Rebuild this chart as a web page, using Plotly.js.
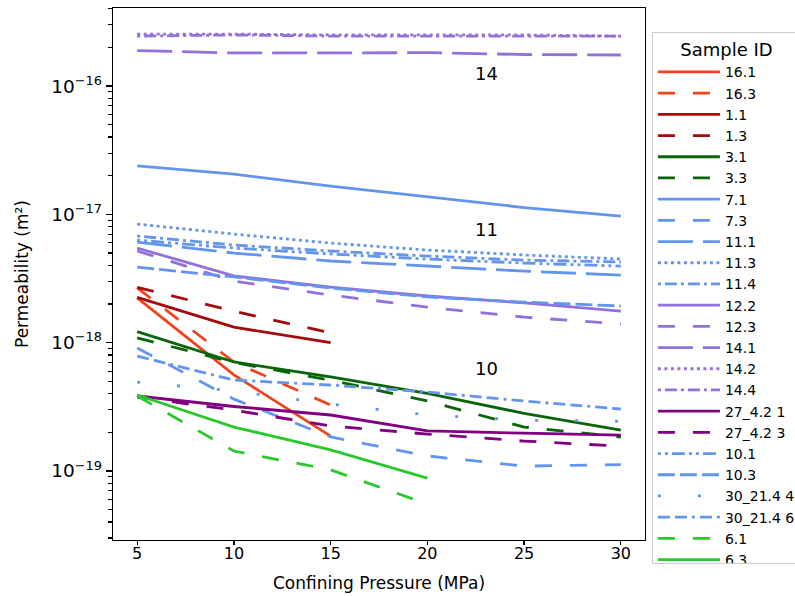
<!DOCTYPE html>
<html>
<head>
<meta charset="utf-8">
<script src="https://cdn.plot.ly/plotly-3.0.1.min.js"></script>
<style>html,body{margin:0;padding:0;background:#fff;}#chart{width:795px;height:596px;}</style>
</head>
<body>
<div id="chart"></div>
<script>
// ---- data (confining pressure in MPa, permeability in m²) ----
const pressure = [5, 10, 15, 20, 25, 30];
const k16_1 = [2.23e-18, 5.6e-19, 1.87e-19];
const k16_3 = [2.67e-18, 7.06e-19, 3.26e-19];
const k1_1 = [2.25e-18, 1.32e-18, 1.0e-18];
const k1_3 = [2.70e-18, 1.76e-18, 1.19e-18];
const k3_1 = [1.22e-18, 7.07e-19, 5.42e-19, 4.03e-19, 2.81e-19, 2.08e-19];
const k3_3 = [1.09e-18, 7.0e-19, 5.1e-19, 3.51e-19, 2.2e-19, 1.84e-19];
const k7_1 = [2.39e-17, 2.06e-17, 1.66e-17, 1.37e-17, 1.13e-17, 9.7e-18];
const k7_3 = [9.08e-19, 3.63e-19, 1.84e-19, 1.31e-19, 1.09e-19, 1.12e-19];
const k11_1 = [6.08e-18, 4.99e-18, 4.33e-18, 3.95e-18, 3.61e-18, 3.36e-18];
const k11_3 = [8.4e-18, 7.02e-18, 5.97e-18, 5.27e-18, 4.82e-18, 4.49e-18];
const k11_4 = [6.78e-18, 5.76e-18, 5.18e-18, 4.73e-18, 4.4e-18, 4.25e-18];
const k12_2 = [5.46e-18, 3.31e-18, 2.71e-18, 2.31e-18, 2.04e-18, 1.76e-18];
const k12_3 = [5.18e-18, 3.02e-18, 2.35e-18, 1.89e-18, 1.58e-18, 1.40e-18];
const k14_1 = [1.89e-16, 1.81e-16, 1.81e-16, 1.82e-16, 1.76e-16, 1.745e-16];
const k14_2 = [2.54e-16, 2.54e-16, 2.50e-16, 2.50e-16, 2.50e-16, 2.45e-16];
const k14_4 = [2.45e-16, 2.50e-16, 2.45e-16, 2.45e-16, 2.45e-16, 2.45e-16];
const k27_1 = [3.84e-19, 3.18e-19, 2.73e-19, 2.05e-19, 1.97e-19, 1.90e-19];
const k27_3 = [3.77e-19, 2.98e-19, 2.24e-19, 1.94e-19, 1.71e-19, 1.56e-19];
const k10_1 = [6.3e-18, 5.46e-18, 4.91e-18, 4.48e-18, 4.17e-18, 3.95e-18];
const k10_3 = [3.88e-18, 3.25e-18, 2.67e-18, 2.27e-18, 2.07e-18, 1.93e-18];
const k30_4 = [4.93e-19, 4.2e-19, 3.32e-19, 2.73e-19, 2.49e-19, 2.44e-19];
const k30_6 = [7.86e-19, 5.11e-19, 4.67e-19, 4.12e-19, 3.51e-19, 3.04e-19];
const k6_1 = [3.84e-19, 1.43e-19, 1.02e-19, 5.52e-20];
const k6_3 = [3.91e-19, 2.2e-19, 1.46e-19, 8.8e-20];

const sampleIds = ["16.1","16.3","1.1","1.3","3.1","3.3","7.1","7.3","11.1","11.3","11.4",
  "12.2","12.3","14.1","14.2","14.4","27_4.2 1","27_4.2 3","10.1","10.3","30_21.4 4","30_21.4 6","6.1","6.3"];
const seriesValues = [k16_1,k16_3,k1_1,k1_3,k3_1,k3_3,k7_1,k7_3,k11_1,k11_3,k11_4,
  k12_2,k12_3,k14_1,k14_2,k14_4,k27_1,k27_3,k10_1,k10_3,k30_4,k30_6,k6_1,k6_3];

const groupLabels = ["14", "11", "10"];
const groupLabelX = [23.05, 23.05, 23.05];
const groupLabelY = [1.26e-16, 7.55e-18, 6.34e-19];
const yTickVals = [1e-19, 1e-18, 1e-17, 1e-16];
const yTickText = ["10<sup>−19</sup>", "10<sup>−18</sup>", "10<sup>−17</sup>", "10<sup>−16</sup>"];
const xTickVals = [5, 10, 15, 20, 25, 30];

// ---- styles ----
const C = {
  orange: "#f2431c", dred: "#a50a0a", dgreen: "#0a640a", blue: "#6495ed",
  mpurple: "#9370db", purple: "#800080", lime: "#2ac82a"
};
const D = {
  solid: "solid", dash: "17px,18px", longdash: "35px,10px", dot: "3px,3.5px",
  dashdot: "3px,4px,12px,4px", d10_1: "3px,4px,3px,4px,13px,4px", d10_3: "17px,5px",
  sparse: "3px,37px", d30_6: "12px,5px,12px,5px,3px,5px"
};
const styles = [
  [C.orange, D.solid], [C.orange, D.dash], [C.dred, D.solid], [C.dred, D.dash],
  [C.dgreen, D.solid], [C.dgreen, D.dash], [C.blue, D.solid], [C.blue, D.dash],
  [C.blue, D.longdash], [C.blue, D.dot], [C.blue, D.dashdot],
  [C.mpurple, D.solid], [C.mpurple, D.dash], [C.mpurple, D.longdash], [C.mpurple, D.dot], [C.mpurple, D.dashdot],
  [C.purple, D.solid], [C.purple, D.dash], [C.blue, D.d10_1], [C.blue, D.d10_3],
  [C.blue, D.sparse], [C.blue, D.d30_6], [C.lime, D.dash], [C.lime, D.solid]
];

const traces = sampleIds.map((id, i) => ({
  type: "scatter", mode: "lines", name: id,
  x: pressure.slice(0, seriesValues[i].length),
  y: seriesValues[i],
  line: { color: styles[i][0], dash: styles[i][1], width: 2.8 }
}));

const minorVals = [];
for (let e = -20; e <= -15; e++) for (let m = 2; m <= 9; m++) minorVals.push(m * Math.pow(10, e));

const font = "DejaVu Sans, sans-serif";
const layout = {
  width: 795, height: 596,
  margin: { l: 113, r: 150, t: 8, b: 56, autoexpand: false },
  paper_bgcolor: "#fff", plot_bgcolor: "#fff",
  font: { family: font, color: "#000", size: 15 },
  showlegend: true,
  xaxis: {
    range: [3.75, 31.25], tickvals: xTickVals, ticks: "outside", ticklen: 4, tickwidth: 1.2,
    tickcolor: "#000", showline: true, linecolor: "#000", linewidth: 1.2, mirror: true,
    showgrid: false, zeroline: false, tickfont: { size: 16 }, ticklabelstandoff: -5,
    title: { text: "Confining Pressure (MPa)", font: { size: 17 }, standoff: 14 }
  },
  yaxis: {
    type: "log", range: [-19.538, -15.392], tickvals: yTickVals, ticktext: yTickText,
    ticks: "outside", ticklen: 6, tickwidth: 1.2, tickcolor: "#000",
    showline: true, linecolor: "#000", linewidth: 1.2, mirror: true,
    showgrid: false, zeroline: false, tickfont: { size: 18.5 },
    minor: { tickvals: minorVals, ticks: "outside", ticklen: 3.5, tickcolor: "#000", showgrid: false },
    title: { text: "Permeability (m²)", font: { size: 17 }, standoff: 18 }
  },
  legend: {
    x: 1.013, y: 0.955, xanchor: "left", yanchor: "top",
    bgcolor: "#fff", bordercolor: "#cccccc", borderwidth: 1,
    font: { size: 14 }, tracegroupgap: 0, itemwidth: 62,
    title: { text: "Sample ID", font: { size: 18 }, side: "top center" }
  },
  annotations: groupLabels.map((t, i) => ({
    x: groupLabelX[i], y: Math.log10(groupLabelY[i]), xref: "x", yref: "y",
    text: t, showarrow: false, font: { size: 18, color: "#000" }
  }))
};

Plotly.newPlot("chart", traces, layout, { staticPlot: true, displayModeBar: false });
</script>
</body>
</html>
